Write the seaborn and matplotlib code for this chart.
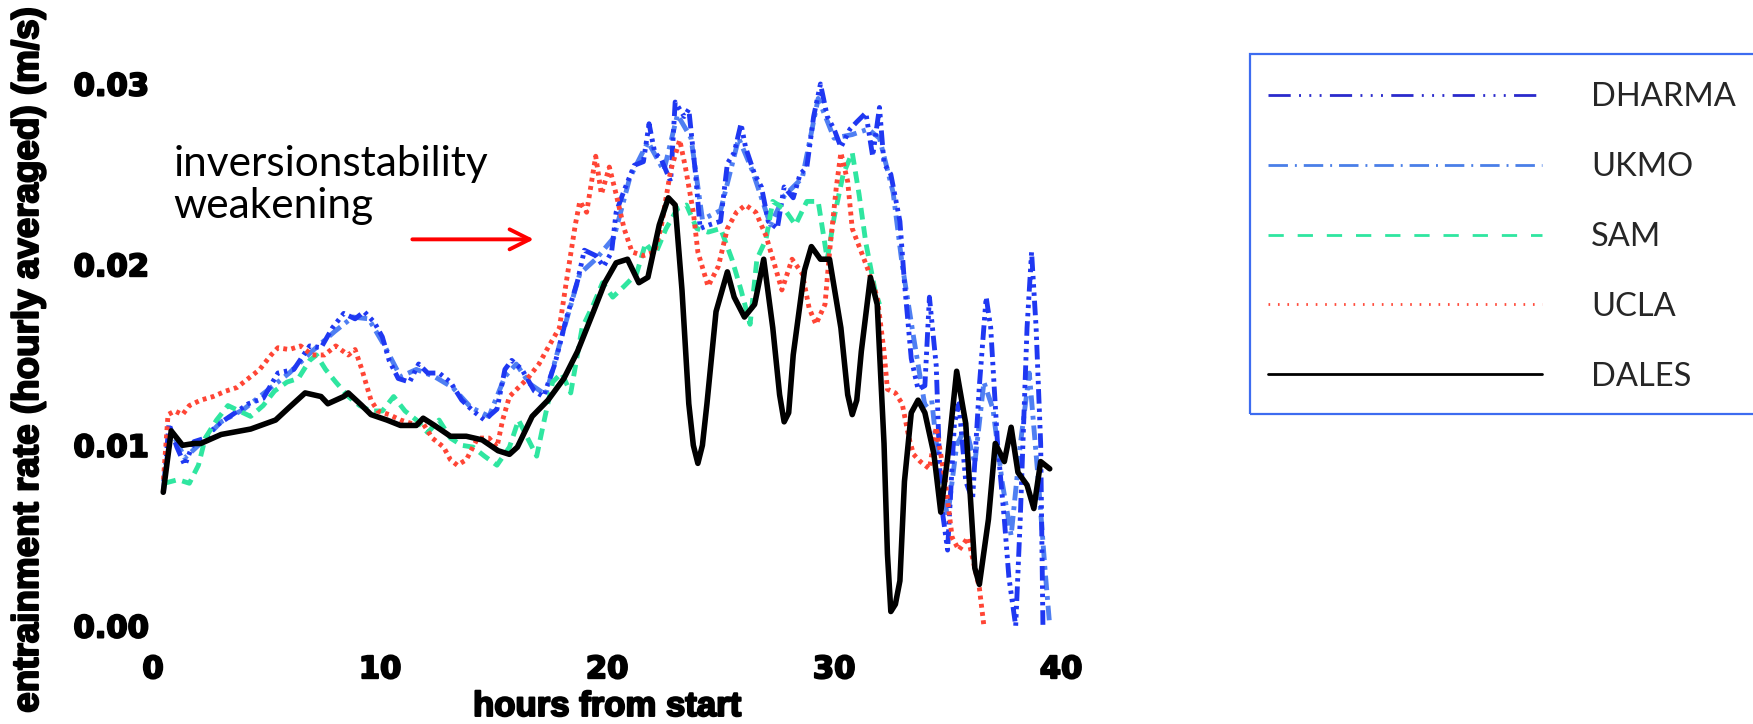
import matplotlib
matplotlib.use("Agg")
import numpy as np
import pandas as pd
import matplotlib.pyplot as plt
import seaborn as sns
from matplotlib.lines import Line2D
from matplotlib.patches import Rectangle
from matplotlib.font_manager import FontProperties
import matplotlib.patheffects as pe

# ---------------- data ----------------
models = ["DHARMA", "UKMO", "SAM", "UCLA", "DALES"]

dharma_h = [0.46, 0.7, 1.05, 1.4, 1.8, 2.3, 2.8, 3.5, 4.2, 4.85, 5.5, 6.2, 6.9, 7.4, 7.9, 8.4, 8.9, 9.3,
            9.75, 10.1, 10.4, 10.8, 11.3, 11.7, 12.1, 12.6, 13.1, 13.6, 14.1, 14.6, 15.15, 15.5, 15.8,
            16.25, 16.8, 17.2, 17.7, 18.2, 18.7, 19.0, 19.5, 19.85, 20.2, 20.4, 20.75, 21.2, 21.6, 21.85,
            22.1, 22.4, 22.8, 23.0, 23.4, 23.6, 23.9, 24.1, 24.5, 25.0, 25.3, 25.6, 25.9, 26.1, 26.5,
            26.8, 27.1, 27.5, 27.8, 28.2, 28.5, 28.8, 29.1, 29.4, 29.7, 30.0, 30.3, 30.7, 31.0, 31.4,
            31.7, 32.0, 32.2, 32.5, 32.9, 33.1, 33.4, 33.7, 34.0, 34.2, 34.5, 34.7, 35.0, 35.3, 35.5,
            35.8, 36.1, 36.4, 36.7, 36.9, 37.2, 37.5, 37.7, 38.0, 38.2, 38.5, 38.7, 38.9, 39.1, 39.2]
dharma_v = [0.0074, 0.0112, 0.0099, 0.0089, 0.0102, 0.0104, 0.0111, 0.0117, 0.0123, 0.0126, 0.0140,
            0.0142, 0.0155, 0.0154, 0.0165, 0.0173, 0.0170, 0.0174, 0.0168, 0.0160, 0.0147, 0.0137,
            0.0135, 0.0145, 0.0140, 0.0140, 0.0135, 0.0125, 0.0119, 0.0114, 0.0120, 0.0142, 0.0147,
            0.0142, 0.0130, 0.0127, 0.0145, 0.0170, 0.0191, 0.0208, 0.0205, 0.0199, 0.0207, 0.0229,
            0.0241, 0.0255, 0.0257, 0.0278, 0.0262, 0.0258, 0.0246, 0.0290, 0.0282, 0.0286, 0.0250,
            0.0220, 0.0222, 0.0224, 0.0256, 0.0262, 0.0278, 0.0265, 0.0250, 0.0243, 0.0224, 0.0220,
            0.0243, 0.0237, 0.0250, 0.0254, 0.0282, 0.0300, 0.0282, 0.0275, 0.0265, 0.0275, 0.0279,
            0.0284, 0.0260, 0.0287, 0.0256, 0.0250, 0.0224, 0.0190, 0.0148, 0.0131, 0.0133, 0.0182,
            0.0144, 0.0070, 0.0042, 0.0112, 0.0123, 0.0080, 0.0070, 0.0133, 0.0182, 0.0165, 0.0101,
            0.0059, 0.0027, 0.0000, 0.0059, 0.0165, 0.0207, 0.0165, 0.0101, 0.0000]

ukmo_h = [0.46, 0.8, 1.4, 2.0, 3.0, 4.0, 5.0, 6.0, 7.0, 8.0, 8.8, 9.5, 10.2, 10.9, 11.6, 12.4, 13.2,
          14.0, 14.8, 15.5, 16.0, 16.6, 17.3, 18.0, 18.8, 19.5, 20.3, 21.0, 21.8, 22.5, 23.1, 23.7,
          24.2, 25.0, 25.8, 26.4, 27.2, 27.8, 28.6, 29.3, 30.0, 30.8, 31.5, 32.0, 32.6, 33.0, 33.5,
          34.0, 34.3, 34.6, 35.0, 35.4, 35.8, 36.2, 36.6, 37.0, 37.4, 37.8, 38.2, 38.6, 39.0, 39.3, 39.5]
ukmo_v = [0.0080, 0.0108, 0.0093, 0.0100, 0.0113, 0.0120, 0.0130, 0.0140, 0.0152, 0.0163, 0.0171,
          0.0170, 0.0155, 0.0138, 0.0142, 0.0138, 0.0132, 0.0121, 0.0116, 0.0138, 0.0145, 0.0134,
          0.0128, 0.0160, 0.0195, 0.0203, 0.0215, 0.0248, 0.0268, 0.0252, 0.0283, 0.0270, 0.0225,
          0.0230, 0.0270, 0.0252, 0.0222, 0.0238, 0.0248, 0.0292, 0.0270, 0.0272, 0.0275, 0.0270,
          0.0240, 0.0200, 0.0160, 0.0122, 0.0125, 0.0090, 0.0060, 0.0100, 0.0110, 0.0090, 0.0135,
          0.0120, 0.0080, 0.0050, 0.0100, 0.0140, 0.0080, 0.0030, 0.0000]

sam_h = [0.5, 1.1, 1.6, 2.0, 2.3, 2.8, 3.3, 3.8, 4.3, 4.85, 5.35, 5.9, 6.4, 6.9, 7.2, 7.6, 8.05, 8.6,
         9.1, 9.6, 10.1, 10.6, 11.1, 11.6, 12.1, 12.6, 13.1, 13.6, 14.1, 14.6, 15.15, 15.7, 16.1, 16.5,
         16.9, 17.2, 17.6, 18.0, 18.4, 18.9, 19.4, 19.8, 20.25, 20.75, 21.3, 21.7, 22.1, 22.6, 23.1,
         23.5, 23.95, 24.45, 25.0, 25.5, 25.9, 26.3, 26.6, 27.0, 27.3, 27.8, 28.3, 28.8, 29.3, 29.7,
         30.0, 30.4, 30.8, 31.1, 31.4, 31.8, 32.0]
sam_v = [0.0079, 0.0081, 0.0079, 0.0089, 0.0104, 0.0114, 0.0122, 0.0119, 0.0116, 0.0122, 0.0130,
         0.0135, 0.0137, 0.0147, 0.0150, 0.0142, 0.0135, 0.0127, 0.0122, 0.0119, 0.0119, 0.0127,
         0.0119, 0.0114, 0.0107, 0.0114, 0.0104, 0.0100, 0.0099, 0.0094, 0.0089, 0.0099, 0.0114,
         0.0104, 0.0094, 0.0112, 0.0135, 0.0140, 0.0129, 0.0165, 0.0178, 0.0190, 0.0182, 0.0188,
         0.0195, 0.0212, 0.0205, 0.0220, 0.0231, 0.0233, 0.0220, 0.0218, 0.0220, 0.0203, 0.0186,
         0.0167, 0.0203, 0.0214, 0.0235, 0.0231, 0.0222, 0.0235, 0.0235, 0.0203, 0.0226, 0.0250,
         0.0262, 0.0239, 0.0212, 0.0186, 0.0178]

ucla_h = [0.46, 0.66, 0.96, 1.3, 1.6, 2.1, 2.65, 3.2, 3.7, 4.2, 4.7, 5.2, 5.5, 6.0, 6.5, 7.0, 7.55,
          8.05, 8.6, 8.9, 9.2, 9.6, 9.9, 10.4, 10.9, 11.4, 11.9, 12.3, 12.8, 13.1, 13.4, 13.8, 14.3,
          14.8, 15.15, 15.4, 15.7, 16.1, 16.5, 17.0, 17.35, 17.9, 18.2, 18.6, 18.8, 19.1, 19.5, 19.75,
          20.1, 20.4, 20.75, 21.1, 21.6, 22.1, 22.4, 22.8, 23.2, 23.45, 23.8, 24.0, 24.45, 24.9, 25.3,
          25.7, 26.1, 26.55, 27.0, 27.4, 27.7, 28.15, 28.6, 28.9, 29.2, 29.6, 29.8, 30.1, 30.3, 30.6,
          30.8, 31.2, 31.5, 31.9, 32.2, 32.35, 32.7, 33.0, 33.3, 33.5, 33.8, 34.2, 34.5, 34.9, 35.2,
          35.5, 35.9, 36.2, 36.4, 36.6]
ucla_v = [0.0081, 0.0117, 0.0119, 0.0117, 0.0122, 0.0125, 0.0127, 0.0130, 0.0132, 0.0137, 0.0142,
          0.0150, 0.0154, 0.0153, 0.0155, 0.0150, 0.0150, 0.0155, 0.0150, 0.0153, 0.0142, 0.0125,
          0.0119, 0.0117, 0.0114, 0.0112, 0.0112, 0.0104, 0.0099, 0.0092, 0.0089, 0.0092, 0.0104,
          0.0104, 0.0099, 0.0114, 0.0127, 0.0132, 0.0137, 0.0145, 0.0153, 0.0165, 0.0190, 0.0222,
          0.0235, 0.0229, 0.0260, 0.0239, 0.0254, 0.0239, 0.0220, 0.0207, 0.0205, 0.0207, 0.0222,
          0.0252, 0.0269, 0.0254, 0.0229, 0.0207, 0.0188, 0.0199, 0.0220, 0.0229, 0.0233, 0.0229,
          0.0216, 0.0199, 0.0186, 0.0203, 0.0195, 0.0176, 0.0167, 0.0178, 0.0207, 0.0243, 0.0262,
          0.0246, 0.0220, 0.0207, 0.0197, 0.0182, 0.0152, 0.0131, 0.0129, 0.0123, 0.0104, 0.0095,
          0.0091, 0.0087, 0.0110, 0.0080, 0.0049, 0.0042, 0.0049, 0.0032, 0.0021, 0.0000]

dales_h = [0.45, 0.8, 1.3, 1.8, 2.1, 3.0, 4.3, 5.4, 6.0, 6.7, 7.4, 7.7, 8.4, 8.6, 9.2, 9.6, 10.3, 10.9,
           11.6, 11.9, 12.4, 13.1, 13.8, 14.5, 15.2, 15.7, 16.05, 16.7, 17.4, 18.1, 18.7, 19.4, 19.9,
           20.4, 20.9, 21.4, 21.8, 22.3, 22.7, 23.0, 23.3, 23.6, 23.8, 24.0, 24.2, 24.4, 24.8, 25.3,
           25.6, 26.05, 26.5, 26.9, 27.3, 27.6, 27.8, 28.0, 28.2, 28.7, 29.0, 29.4, 29.8, 30.3, 30.6,
           30.8, 31.0, 31.2, 31.6, 31.9, 32.2, 32.35, 32.5, 32.7, 32.9, 33.1, 33.4, 33.7, 34.0, 34.4,
           34.7, 35.0, 35.4, 35.8, 36.2, 36.4, 36.8, 37.1, 37.5, 37.8, 38.1, 38.5, 38.8, 39.1, 39.5]
dales_v = [0.0074, 0.0108, 0.0100, 0.0101, 0.0101, 0.0106, 0.0109, 0.0114, 0.0121, 0.0129, 0.0127,
           0.0123, 0.0127, 0.0129, 0.0122, 0.0117, 0.0114, 0.0111, 0.0111, 0.0115, 0.0111, 0.0105,
           0.0105, 0.0103, 0.0097, 0.0095, 0.0099, 0.0116, 0.0125, 0.0137, 0.0152, 0.0174, 0.0190,
           0.0201, 0.0203, 0.0190, 0.0193, 0.0222, 0.0237, 0.0233, 0.0186, 0.0123, 0.0100, 0.0090,
           0.0100, 0.0123, 0.0174, 0.0196, 0.0182, 0.0171, 0.0178, 0.0203, 0.0165, 0.0128, 0.0113,
           0.0118, 0.0150, 0.0197, 0.0210, 0.0203, 0.0203, 0.0165, 0.0128, 0.0117, 0.0125, 0.0152,
           0.0193, 0.0178, 0.0101, 0.0040, 0.0008, 0.0012, 0.0025, 0.0080, 0.0118, 0.0125, 0.0118,
           0.0095, 0.0063, 0.0093, 0.0141, 0.0112, 0.0032, 0.0023, 0.0059, 0.0101, 0.0091, 0.0110,
           0.0085, 0.0078, 0.0065, 0.0091, 0.0087]

x_ticks = [0, 10, 20, 30, 40]
y_ticks = [0.00, 0.01, 0.02, 0.03]
x_label = "hours from start"
y_label = "entrainment rate (hourly averaged) (m/s)"
note_text = "inversionstability\nweakening"

series = {"DHARMA": (dharma_h, dharma_v), "UKMO": (ukmo_h, ukmo_v), "SAM": (sam_h, sam_v),
          "UCLA": (ucla_h, ucla_v), "DALES": (dales_h, dales_v)}
frames = [pd.DataFrame({"hour": h, "rate": v, "model": m}) for m, (h, v) in series.items()]
df = pd.concat(frames, ignore_index=True)

# ---------------- styles ----------------
colors = {"DHARMA": "#1f38f2", "UKMO": "#4f7ff2", "SAM": "#2fe6a0", "UCLA": "#ff4535", "DALES": "#000000"}
plot_lw = {"DHARMA": 3.5, "UKMO": 3.5, "SAM": 3.5, "UCLA": 3.5, "DALES": 4.0}
plot_ls = {"DHARMA": (0, (3, 1, 0.7, 1, 0.7, 1, 0.7, 1)),
           "UKMO": (0, (3, 1.2, 0.8, 1.2)),
           "SAM": (0, (2.4, 1.4)),
           "UCLA": (0, (0.8, 0.9)),
           "DALES": "-"}
leg_color = {"DHARMA": "#2a2acc", "UKMO": "#4a7fe8", "SAM": "#2fe6a0", "UCLA": "#ff4a3a", "DALES": "#000000"}
leg_ls = {"DHARMA": (0, (8, 3, 0.7, 3, 0.7, 3, 0.7, 3)),
          "UKMO": (0, (7, 2.5, 0.7, 2.5)),
          "SAM": (0, (5.5, 5)),
          "UCLA": (0, (0.6, 2.8)),
          "DALES": "-"}

sns.set_theme(style="white")
plt.rcParams["font.family"] = ["DejaVu Sans"]

fig = plt.figure(figsize=(17.53, 7.24), dpi=100)
ax = fig.add_axes([0.0873, 0.1354, 0.518, 0.7486])

draw_order = ["UKMO", "DHARMA", "SAM", "UCLA", "DALES"]
for m in draw_order:
    sub = df[df["model"] == m]
    sns.lineplot(data=sub, x="hour", y="rate", ax=ax, color=colors[m], linewidth=plot_lw[m],
                 linestyle=plot_ls[m], sort=False, estimator=None, errorbar=None, legend=False)
for ln in ax.get_lines():
    ln.set_clip_on(False)

ax.set_xlim(0, 40)
ax.set_ylim(0, 0.03)
ax.set_xticks(x_ticks)
ax.set_yticks(y_ticks)
ax.set_xticklabels([str(t) for t in x_ticks])
ax.set_yticklabels([f"{t:.2f}" for t in y_ticks])
sns.despine(ax=ax, left=True, bottom=True, top=True, right=True)
ax.tick_params(axis="both", length=0, labelsize=22)
ax.tick_params(axis="x", pad=21)
ax.tick_params(axis="y", pad=3)
stroke = [pe.withStroke(linewidth=1.5, foreground="black")]
for t in ax.get_xticklabels() + ax.get_yticklabels():
    t.set_fontweight("bold")
    t.set_family(["DejaVu Sans"])
    t.set_color("black")
    t.set_path_effects(stroke)

ax.set_xlabel(x_label, fontsize=25, fontweight="bold", color="black",
              family=["Liberation Sans", "DejaVu Sans"], path_effects=stroke)
ax.set_ylabel(y_label, fontsize=26.5, fontweight="bold", color="black",
              family=["Liberation Sans", "DejaVu Sans"], path_effects=stroke)
ax.xaxis.set_label_coords(0.5, -0.118)
ax.yaxis.set_label_coords(-0.118, 0.49)

# annotation
ax.text(0.9, 0.02440, note_text, fontsize=30.5, family=["Lato", "DejaVu Sans"], color="black",
        ha="left", va="center", linespacing=1.14)
ax.annotate("", xy=(16.9, 0.02140), xytext=(11.3, 0.02140),
            arrowprops=dict(arrowstyle="->", color="#ff0000", lw=2.8, mutation_scale=36))

# legend panel on the right; its frame runs off the right edge of the figure
handles = [Line2D([], [], color=leg_color[m], lw=2.0, linestyle=leg_ls[m]) for m in models]
leg = fig.legend(handles, models, loc="upper left", bbox_to_anchor=(0.713, 0.911),
                 prop=FontProperties(family="Lato", size=23.5), handlelength=8.4,
                 handletextpad=1.5, labelspacing=1.22, borderpad=0.55, frameon=False,
                 borderaxespad=0)
fig.add_artist(Rectangle((0.713, 0.428), 0.32, 0.497, transform=fig.transFigure, fill=False,
                         edgecolor="#3d6cf0", linewidth=1.6))

fig.savefig("out.png", dpi=100, facecolor="white")
